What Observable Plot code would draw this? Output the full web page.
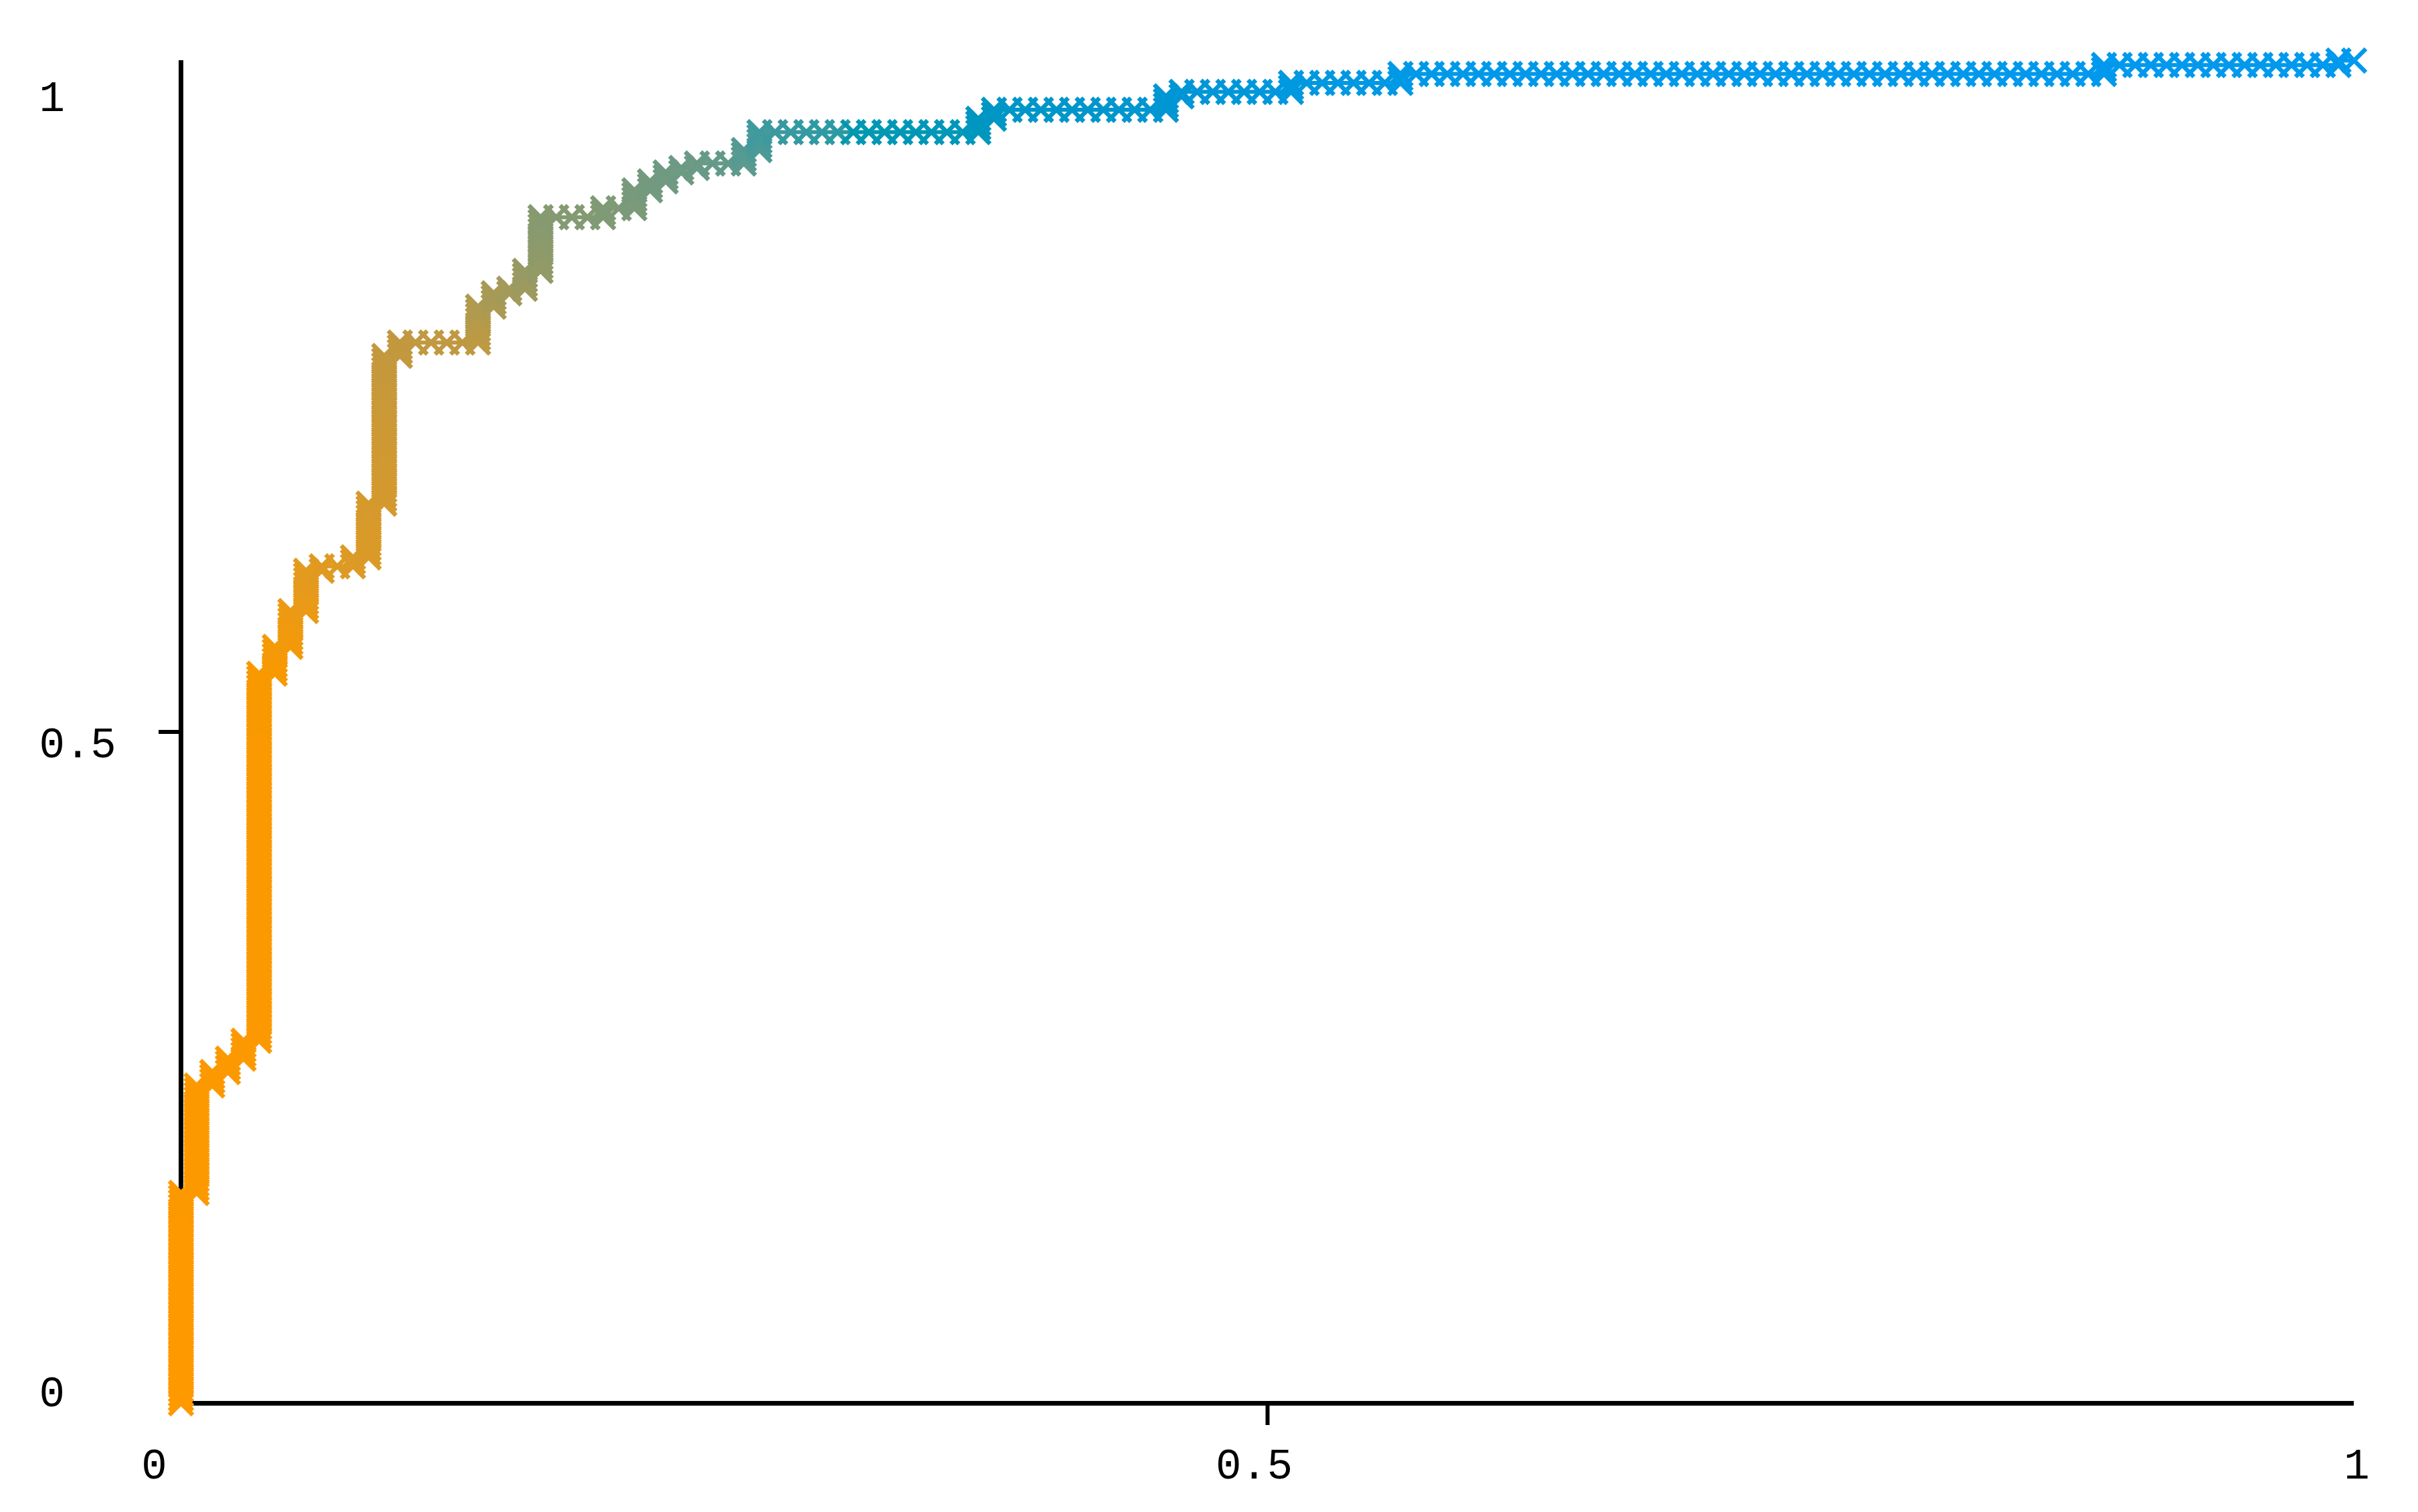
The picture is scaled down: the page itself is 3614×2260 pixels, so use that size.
<!DOCTYPE html>
<html>
<head>
<meta charset="utf-8">
<script src="https://cdn.jsdelivr.net/npm/d3@7"></script>
<script src="https://cdn.jsdelivr.net/npm/@observablehq/plot@0.6"></script>
<style>
  html, body { margin: 0; padding: 0; background: #ffffff; }
  #chart svg { display: block; }
</style>
</head>
<body>
<div id="chart"></div>
<script>
// ROC curve, as runs of the ranked labels:
// go up by upRuns[k] positives, then right by rightRuns[k] negatives.
const upRuns    = [47, 24, 3, 3, 4, 82, 6, 8, 9, 1, 2, 12, 33, 3, 8, 3, 1, 4, 12, 2, 4, 2, 2, 1, 1, 3, 4, 3, 2, 3, 1, 2, 2, 2, 1];
const rightRuns = [1, 1, 1, 1, 1, 1, 1, 1, 1, 2, 1, 1, 1, 5, 1, 1, 1, 1, 4, 2, 1, 1, 1, 1, 3, 1, 14, 1, 11, 1, 7, 7, 45, 15, 1];

// tick values / labels
const xTicks = [0, 0.5, 1];
const yTicks = [0, 0.5, 1];

// colour ramp along the curve (by rank index)
const colorStops  = [0, 170, 185, 200, 250, 258, 276, 290, 310, 321, 326, 327, 341, 357, 366, 380, 439];
const colorValues = ["#ff9900", "#f99900", "#ec9a14", "#dc9a26", "#c3983e", "#bc9a44", "#949a66", "#849a72",
                     "#6a9a86", "#3e9a9e", "#2a9aa4", "#0098b0", "#0096c6", "#0096d6", "#0098e0", "#0099ea", "#0099ee"];

const nPos = d3.sum(upRuns);
const nNeg = d3.sum(rightRuns);

// one point per ranked sample
const points = [{x: 0, y: 0, i: 0}];
let tp = 0, fp = 0;
upRuns.forEach((u, k) => {
  for (let j = 0; j < u; ++j) { tp++; points.push({x: fp / nNeg, y: tp / nPos, i: points.length}); }
  for (let j = 0; j < rightRuns[k]; ++j) { fp++; points.push({x: fp / nNeg, y: tp / nPos, i: points.length}); }
});
const segments = points.slice(1).map((p, k) => ({x1: points[k].x, y1: points[k].y, x2: p.x, y2: p.y, i: points[k].i}));

const fmt = d => String(d);

const chart = Plot.plot({
  width: 3614,
  height: 2260,
  marginLeft: 270,
  marginRight: 96,
  marginTop: 90,
  marginBottom: 163,
  x: {domain: [0, 1], axis: null},
  y: {domain: [0, 1], axis: null},
  color: {type: "linear", domain: colorStops, range: colorValues},
  style: {fontFamily: "'Liberation Mono', monospace", fontSize: "64px", background: "#ffffff", color: "#000000"},
  marks: [
    Plot.ruleX([0], {y1: 0, y2: 1, stroke: "#000", strokeWidth: 7}),
    Plot.ruleY([0], {x1: 0, x2: 1, stroke: "#000", strokeWidth: 7}),
    Plot.axisX([0.5], {anchor: "bottom", tickSize: 33, tickFormat: () => "", strokeWidth: 6, label: null}),
    Plot.axisY([0.5], {anchor: "left", tickSize: 33, tickFormat: () => "", strokeWidth: 6, label: null}),
    Plot.axisX([xTicks[0]], {anchor: "bottom", tickSize: 0, tickPadding: 67, dx: -40, tickFormat: fmt, label: null}),
    Plot.axisX([xTicks[1]], {anchor: "bottom", tickSize: 0, tickPadding: 67, dx: -20, tickFormat: fmt, label: null}),
    Plot.axisX([xTicks[2]], {anchor: "bottom", tickSize: 0, tickPadding: 67, dx: 4, tickFormat: fmt, label: null}),
    Plot.axisY([yTicks[0]], {anchor: "left", tickSize: 0, tickPadding: 212, textAnchor: "start", dy: -16, tickFormat: fmt, label: null}),
    Plot.axisY([yTicks[1]], {anchor: "left", tickSize: 0, tickPadding: 212, textAnchor: "start", dy: 18, tickFormat: fmt, label: null}),
    Plot.axisY([yTicks[2]], {anchor: "left", tickSize: 0, tickPadding: 212, textAnchor: "start", dy: 55, tickFormat: fmt, label: null}),
    Plot.link(segments, {x1: "x1", y1: "y1", x2: "x2", y2: "y2", stroke: "i", strokeWidth: 6, strokeLinecap: "round"}),
    Plot.dot(points, {x: "x", y: "y", stroke: "i", symbol: "times", r: 16, strokeWidth: 6.5})
  ]
});
document.getElementById("chart").appendChild(chart);
</script>
</body>
</html>
